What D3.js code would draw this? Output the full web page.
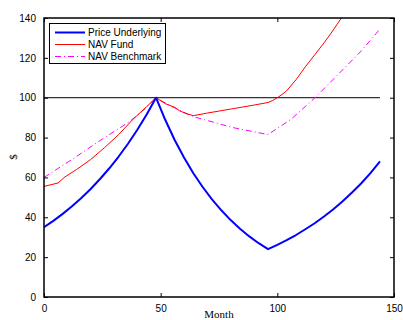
<!DOCTYPE html>
<html><head><meta charset="utf-8">
<script src="https://cdn.jsdelivr.net/npm/d3@7"></script>
<style>body{margin:0;background:#fff}svg{display:block}</style>
</head><body>
<script>
// Data
const priceMonths = [0,4,8,12,16,20,24,28,32,36,40,44,48,52,56,60,64,68,72,76,80,84,88,92,96,100,104,108,112,116,120,124,128,132,136,140,144];
const priceValues = [35,38.2,41.7,45.5,49.7,54.2,59.2,64.6,70.5,76.9,83.9,91.6,100,88.8,78.8,70.0,62.1,55.2,49.0,43.5,38.6,34.3,30.4,27.0,24.0,26.2,28.5,31.1,34.0,37.0,40.4,44.0,48.0,52.4,57.1,62.3,68.0];
const fundMonths = [0,6,9,14,20,26,32,38,44,48,52,56,58,61,64,70,80,90,96,98,100,102,104,108,112,116,120,124,128,132];
const fundValues = [55.5,57.2,60.3,64,69,75,81.5,89,95.5,100,97,95.2,93.5,92,91,92.3,94.3,96.3,97.6,98.6,100,101.6,103.5,109,115.5,121.5,127.5,134,141,148];
const benchMonths = [0,12,24,36,42,48,54,64,81,96,106,116,128,136,144];
const benchValues = [60,69,78.5,87.5,93,100,96,90.5,85,81.5,89.3,99.8,114,123.5,134.5];
const refMonths = [0,144];
const refValues = [100,100];
const xTicks = [0,50,100,150];
const yTicks = [0,20,40,60,80,100,120,140];
const seriesNames = ["Price Underlying","NAV Fund","NAV Benchmark"];

const W=403,H=320;
const L=44,R=394,T=18,B=297;
const svg=d3.select("body").append("svg").attr("width",W).attr("height",H);
const x=d3.scaleLinear().domain([0,150]).range([L,R]);
const y=d3.scaleLinear().domain([0,140]).range([B,T]);

svg.append("defs").append("clipPath").attr("id","clip")
  .append("rect").attr("x",L).attr("y",T).attr("width",R-L).attr("height",B-T);

const toPts=(ms,vs)=>ms.map((m,i)=>[m,vs[i]]);
const line=d3.line().x(d=>x(d[0])).y(d=>y(d[1]));
const g=svg.append("g").attr("clip-path","url(#clip)");

g.append("path").datum(toPts(refMonths,refValues)).attr("d",line)
  .attr("fill","none").attr("stroke","#000").attr("stroke-width",1);
g.append("path").datum(toPts(benchMonths,benchValues)).attr("d",line)
  .attr("fill","none").attr("stroke","#ff00ff").attr("stroke-width",1).attr("stroke-dasharray","6,3,1,3");
g.append("path").datum(toPts(fundMonths,fundValues)).attr("d",line)
  .attr("fill","none").attr("stroke","#ff0000").attr("stroke-width",1);
g.append("path").datum(toPts(priceMonths,priceValues)).attr("d",line)
  .attr("fill","none").attr("stroke","#0000ff").attr("stroke-width",2).attr("stroke-linejoin","round");

// Axes (MATLAB style: inward ticks on all sides)
const font="'Liberation Sans', Arial, Helvetica, sans-serif";
const ax=svg.append("g");
ax.append("g").attr("transform",`translate(0,${B})`)
  .call(d3.axisBottom(x).tickValues(xTicks).tickSizeInner(-4).tickSizeOuter(0).tickPadding(8));
ax.append("g").attr("transform",`translate(0,${T})`)
  .call(d3.axisTop(x).tickValues(xTicks).tickSizeInner(-4).tickSizeOuter(0).tickFormat(""));
ax.append("g").attr("transform",`translate(${L},0)`)
  .call(d3.axisLeft(y).tickValues(yTicks).tickSizeInner(-4).tickSizeOuter(0).tickPadding(8));
ax.append("g").attr("transform",`translate(${R},0)`)
  .call(d3.axisRight(y).tickValues(yTicks).tickSizeInner(-4).tickSizeOuter(0).tickFormat(""));
ax.selectAll(".domain").remove();
ax.selectAll("text").attr("font-family",font).attr("font-size",10).attr("fill","#000");
ax.selectAll(".tick line").attr("stroke","#000");
svg.append("rect").attr("x",L).attr("y",T).attr("width",R-L).attr("height",B-T)
  .attr("fill","none").attr("stroke","#000").attr("stroke-width",1.5);

// Axis labels
svg.append("text").attr("x",(L+R)/2).attr("y",318).attr("text-anchor","middle")
  .attr("font-family","'Liberation Serif','Times New Roman',serif").attr("font-size",11).text("Month");
svg.append("text").attr("transform","translate(17,157) rotate(-90)").attr("text-anchor","middle")
  .attr("font-family","'Liberation Serif','Times New Roman',serif").attr("font-size",11).text("$");

// Legend
const lg=svg.append("g");
lg.append("rect").attr("x",49.5).attr("y",23.5).attr("width",116).attr("height",40)
  .attr("fill","#fff").attr("stroke","#000").attr("stroke-width",1);
const styles=[{c:"#0000ff",w:2,d:null},{c:"#ff0000",w:1,d:null},{c:"#ff00ff",w:1,d:"6,3,1,3"}];
seriesNames.forEach((n,i)=>{
  const yy=32.5+i*12;
  lg.append("line").attr("x1",55).attr("x2",85).attr("y1",yy).attr("y2",yy)
    .attr("stroke",styles[i].c).attr("stroke-width",styles[i].w).attr("stroke-dasharray",styles[i].d);
  lg.append("text").attr("x",88).attr("y",yy+3.5).attr("font-family",font).attr("font-size",10).text(n);
});
</script>
</body></html>
